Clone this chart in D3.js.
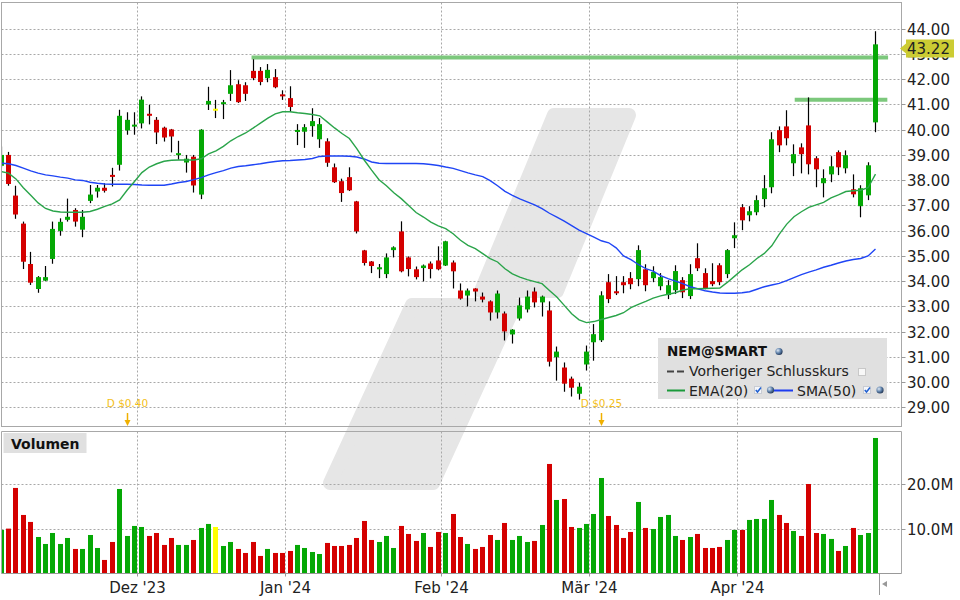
<!DOCTYPE html>
<html><head><meta charset="utf-8">
<script src="https://cdn.jsdelivr.net/npm/d3@7"></script>
<style>
body{margin:0;background:#fff;}
svg{display:block;font-family:"DejaVu Sans",Verdana,sans-serif;}
</style>
</head><body>
<svg id="c" width="960" height="600"></svg>
<script>
// ---------------- DATA ----------------
const openP = [38.57,39.00,37.39,36.28,34.68,33.69,34.02,34.88,35.99,36.43,36.82,36.04,37.18,37.55,37.70,38.21,38.61,39.97,40.13,40.25,
40.63,40.39,40.08,40.01,39.00,38.70,38.93,37.43,41.00,40.83,41.02,41.42,41.80,41.76,42.33,42.33,42.04,42.08,41.40,41.25,
39.91,39.92,40.14,39.62,39.54,38.51,37.96,38.12,37.16,35.22,34.78,34.47,34.28,35.23,35.97,34.94,34.47,34.52,34.70,34.82,
34.62,34.74,33.63,33.43,33.71,33.39,33.20,32.76,32.72,31.89,32.52,32.88,33.59,33.16,32.84,30.99,30.58,30.14,29.54,30.70,
31.58,31.66,33.96,33.60,33.96,34.12,34.08,34.47,34.12,33.80,33.45,33.64,34.04,33.41,34.91,34.32,34.00,34.63,34.28,35.70,
36.93,36.61,36.73,37.25,37.72,39.98,40.13,38.67,39.30,40.17,38.87,37.88,38.23,39.11,38.47,37.64,36.97,37.40,40.29];
const highP = [39.33,39.12,37.78,36.36,35.16,34.20,34.60,36.36,36.49,37.27,36.89,36.82,37.81,37.81,37.88,38.49,40.79,40.69,40.69,41.32,
40.99,40.50,40.12,40.03,39.56,39.00,39.00,40.02,41.70,41.18,41.18,42.36,41.96,41.88,42.79,42.48,42.60,42.40,41.56,41.72,
40.22,40.22,40.85,40.46,39.66,38.66,38.06,38.51,37.18,35.24,34.80,34.68,35.10,35.38,36.37,34.98,34.58,34.66,34.78,35.38,
35.60,34.82,33.91,33.71,33.72,33.55,33.24,33.63,32.80,32.10,33.35,33.63,33.75,33.43,33.20,31.41,30.78,30.22,29.98,31.45,
32.30,33.60,34.28,34.20,34.20,34.36,35.42,34.67,34.59,34.32,34.04,34.63,34.16,34.67,35.50,34.51,34.71,34.71,35.27,36.33,
37.05,36.97,37.40,38.20,39.90,40.13,40.77,39.42,39.46,41.28,38.95,38.43,38.95,39.18,39.18,38.23,37.80,38.71,43.90];
const lowP = [38.50,37.78,36.47,34.48,33.85,33.54,34.00,34.69,35.80,36.36,36.16,35.74,37.09,37.31,37.51,37.75,38.38,39.80,39.80,40.05,
40.21,39.43,39.53,39.10,38.81,38.30,37.51,37.25,40.78,40.46,40.42,41.14,41.06,41.14,41.96,41.76,41.88,41.64,41.18,40.70,
39.39,39.28,39.72,39.28,38.53,37.89,37.14,37.57,35.89,34.62,34.32,34.12,34.12,34.94,34.35,34.19,34.07,33.99,34.11,34.43,
34.60,33.71,33.27,33.00,33.20,33.16,32.44,32.52,31.65,31.53,32.44,32.76,32.96,32.60,30.62,30.06,29.62,29.43,29.31,30.46,
30.85,31.59,33.13,33.45,33.52,33.68,33.80,33.60,33.96,33.64,33.29,33.49,33.33,33.29,34.40,33.68,33.80,33.84,34.12,35.31,
36.02,36.37,36.61,36.93,37.48,39.11,39.38,38.16,38.27,38.23,37.72,37.32,37.92,38.20,38.27,37.32,36.53,37.21,39.90];
const closeP = [39.00,37.85,36.64,34.77,33.94,34.16,34.16,36.07,36.35,36.55,36.36,36.55,37.43,37.70,37.58,38.13,40.55,40.39,40.20,41.19,
40.55,39.89,39.69,39.73,39.07,38.85,37.79,40.00,41.14,40.83,41.09,41.76,41.09,41.42,42.04,41.89,42.37,41.68,41.32,40.90,
39.99,40.10,40.34,40.22,38.69,37.92,37.49,37.60,35.97,34.72,34.60,34.55,34.94,35.34,34.39,34.48,34.16,34.62,34.48,34.47,
35.58,34.39,33.31,33.63,33.59,33.27,32.76,33.51,32.01,32.08,33.04,33.39,33.16,33.39,30.81,31.21,29.94,29.78,29.82,31.21,
31.90,33.44,33.29,33.52,33.84,33.88,35.23,33.84,34.36,34.16,33.84,34.40,33.56,34.28,34.51,33.72,33.88,33.96,35.23,35.82,
36.41,36.77,37.21,37.68,39.62,39.38,39.66,39.03,39.03,38.63,38.43,38.08,38.55,38.51,38.99,37.44,37.68,38.59,43.38];
// volume in millions
const volumeM = [9.74,10.04,19.18,13.11,11.54,8.16,6.59,9.06,6.59,7.94,5.47,5.47,8.61,5.69,3.00,7.04,18.95,8.39,10.64,10.41,
8.39,9.06,6.37,7.94,6.37,6.37,7.49,10.19,11.09,10.41,6.14,7.04,5.47,4.57,7.04,3.90,5.47,4.57,4.57,5.02,
6.37,5.69,4.79,4.34,6.82,6.14,6.14,6.37,7.94,11.76,7.49,7.04,8.39,5.69,10.64,8.84,7.27,9.06,5.92,9.29,
9.06,13.33,8.16,6.59,5.47,5.92,8.61,7.49,11.31,7.49,8.39,7.04,7.27,10.86,24.57,16.48,16.70,10.41,10.19,11.09,
13.33,21.42,12.88,10.86,7.94,9.29,16.03,10.19,9.96,12.66,13.11,8.39,7.49,8.16,8.84,5.69,5.69,5.92,7.49,9.74,
9.74,11.99,12.21,12.21,16.48,13.11,11.31,9.51,8.39,20.07,9.06,8.84,7.72,5.02,6.14,10.19,8.61,9.06,30.41];
const ema20 = [38.34,38.28,38.05,37.70,37.40,37.10,36.88,36.78,36.74,36.73,36.73,36.73,36.76,36.85,36.96,37.06,37.22,37.60,37.95,38.30,
38.52,38.65,38.75,38.79,38.80,38.80,38.80,38.85,39.04,39.16,39.34,39.56,39.73,39.87,40.06,40.26,40.46,40.63,40.71,40.71,
40.67,40.64,40.60,40.55,40.31,40.07,39.85,39.65,39.25,38.80,38.40,38.02,37.78,37.50,37.27,37.00,36.72,36.54,36.34,36.19,
36.08,35.88,35.62,35.42,35.29,35.09,34.89,34.76,34.49,34.29,34.16,34.06,33.98,33.90,33.63,33.37,33.04,32.71,32.47,32.36,
32.40,32.48,32.56,32.64,32.75,32.95,33.08,33.20,33.33,33.42,33.48,33.54,33.65,33.70,33.70,33.71,33.72,33.73,33.95,34.20,
34.45,34.65,34.90,35.10,35.40,35.85,36.25,36.55,36.75,36.92,37.02,37.12,37.30,37.42,37.55,37.58,37.60,37.70,38.24];
const sma50 = [38.67,38.65,38.58,38.48,38.37,38.28,38.21,38.17,38.12,38.08,38.01,37.99,37.92,37.88,37.85,37.84,37.84,37.84,37.83,37.81,
37.80,37.80,37.80,37.85,37.91,37.95,38.02,38.10,38.21,38.30,38.38,38.48,38.54,38.57,38.61,38.65,38.70,38.74,38.77,38.78,
38.80,38.82,38.86,38.94,38.96,38.96,38.96,38.95,38.92,38.84,38.72,38.67,38.66,38.66,38.66,38.66,38.66,38.65,38.62,38.58,
38.52,38.47,38.38,38.29,38.21,38.14,37.98,37.78,37.56,37.40,37.26,37.14,37.02,36.87,36.69,36.54,36.38,36.20,36.02,35.88,
35.74,35.60,35.52,35.32,35.00,34.85,34.66,34.50,34.40,34.22,34.10,34.00,33.90,33.78,33.70,33.62,33.57,33.53,33.52,33.52,
33.54,33.58,33.68,33.78,33.85,33.91,34.02,34.14,34.26,34.36,34.45,34.55,34.63,34.72,34.80,34.86,34.90,35.00,35.27];
const priceTicks = [29,30,31,32,33,34,35,36,37,38,39,40,41,42,43,44];
const volumeTicks = [10,20];
const monthLabels = ["Dez '23","Jan '24","Feb '24","Mär '24","Apr '24"];
const monthStartIdx = [19,39,60,80,100];
const lastPrice = 43.22;
const levelPrices = [42.86, 41.19];
const levelFromIdx = [33.8, 107.1];
const levelToIdx = [119.7, 119.6];
const dividendIdx = [17, 81];
const dividendText = ["D $0.40","D $0.25"];

// ---------------- CHART ----------------
const svg = d3.select("#c");
const L = 1.5, R = 901.5, T = 2.5, B = 426.5, VT = 431.5, VB = 573.5;
const n = closeP.length;
const x = d3.scaleLinear().domain([0, n-1]).range([1.1, 1.1 + 7.41*(n-1)]);
const y = d3.scaleLinear().domain([29, 44]).range([407.4, 28.7]);
const yv = d3.scaleLinear().domain([0, 20]).range([573.3, 484.3]);
const GREEN = "#05a805", RED = "#d40000", YEL = "#ffff00";
const colorOf = i => closeP[i] > openP[i] ? GREEN : (closeP[i] < openP[i] ? RED : YEL);

const defs = svg.append("defs");
defs.append("clipPath").attr("id","cm").append("rect").attr("x",2).attr("y",3).attr("width",899).attr("height",423);
defs.append("clipPath").attr("id","cv").append("rect").attr("x",2).attr("y",432).attr("width",899).attr("height",141.5);
const f = defs.append("filter").attr("id","sh").attr("x","-5%").attr("y","-200%").attr("width","110%").attr("height","500%");
f.append("feGaussianBlur").attr("stdDeviation",1.8);
const rg = defs.append("radialGradient").attr("id","globe").attr("cx","35%").attr("cy","35%").attr("r","70%");
rg.append("stop").attr("offset","0%").attr("stop-color","#dfe9f5");
rg.append("stop").attr("offset","55%").attr("stop-color","#5c7fa8");
rg.append("stop").attr("offset","100%").attr("stop-color","#1e3150");

// watermark
const wm = svg.append("g").attr("fill","#e6e6e6").attr("stroke","#e6e6e6").attr("stroke-width",14).attr("stroke-linejoin","round");
wm.append("path").attr("d","M554,115 L629,115 L557,291 L481,291 Z");
wm.append("path").attr("d","M412,305 L515,305 L433,483 L330,483 Z");

// horizontal grid
const grid = svg.append("g").attr("stroke","#a8a8a8").attr("stroke-dasharray","2,2").attr("stroke-width",1);
priceTicks.forEach(p => {
  const yy = Math.round(y(p)) + 0.5;
  grid.append("line").attr("x1",L).attr("x2",R).attr("y1",yy).attr("y2",yy);
});
volumeTicks.forEach(v => {
  const yy = Math.round(yv(v)) + 0.5;
  grid.append("line").attr("x1",L).attr("x2",R).attr("y1",yy).attr("y2",yy);
});
monthStartIdx.forEach(m => {
  const xx = Math.round(x(m - 0.5)) - 0.5;
  grid.append("line").attr("x1",xx).attr("x2",xx).attr("y1",T).attr("y2",B);
  grid.append("line").attr("x1",xx).attr("x2",xx).attr("y1",VT).attr("y2",VB);
});

// resistance lines
const lv = svg.append("g").attr("clip-path","url(#cm)");
levelPrices.forEach((p,k) => {
  const yy = y(p);
  lv.append("line").attr("x1",x(levelFromIdx[k])).attr("x2",x(levelToIdx[k])).attr("y1",yy+3).attr("y2",yy+3)
    .attr("stroke","#9a9a9a").attr("stroke-width",4).attr("opacity",0.75).attr("filter","url(#sh)");
  lv.append("line").attr("x1",x(levelFromIdx[k])).attr("x2",x(levelToIdx[k])).attr("y1",yy).attr("y2",yy)
    .attr("stroke","#7cc87c").attr("stroke-width",4);
});

// candles
const cg = svg.append("g").attr("clip-path","url(#cm)");
d3.range(n).forEach(i => {
  const cx = Math.floor(x(i));
  cg.append("line").attr("x1",cx+0.5).attr("x2",cx+0.5).attr("y1",y(highP[i])).attr("y2",y(lowP[i]))
    .attr("stroke","#000").attr("stroke-width",1.2);
  const top = y(Math.max(openP[i],closeP[i])), bot = y(Math.min(openP[i],closeP[i]));
  cg.append("rect").attr("x",cx-2).attr("width",5).attr("y",top).attr("height",Math.max(2,bot-top)).attr("fill",colorOf(i));
});

// moving averages
const lineGen = d3.line().x((d,i)=>x(i)).y(d=>y(d));
cg.append("path").datum(sma50).attr("d",lineGen).attr("fill","none").attr("stroke","#1f45f5").attr("stroke-width",1.4);
cg.append("path").datum(ema20).attr("d",lineGen).attr("fill","none").attr("stroke","#2aa44a").attr("stroke-width",1.4);

// volume bars
const vg = svg.append("g").attr("clip-path","url(#cv)");
d3.range(n).forEach(i => {
  const cx = Math.floor(x(i));
  vg.append("rect").attr("x",cx-2).attr("width",5).attr("y",yv(volumeM[i])).attr("height",yv(0)-yv(volumeM[i])).attr("fill",colorOf(i));
});

// panel borders
const bd = svg.append("g").attr("fill","none").attr("stroke","#a8a8a8").attr("stroke-width",1);
bd.append("rect").attr("x",L).attr("y",T).attr("width",R-L).attr("height",B-T);
bd.append("path").attr("d",`M${L},${VB} L${L},${VT} L${R},${VT} L${R},${VB}`);
bd.append("line").attr("x1",L).attr("x2",R).attr("y1",VB).attr("y2",VB).attr("stroke","#999");

// right axis (price)
const ax = svg.append("g");
priceTicks.forEach(p => {
  const yy = Math.round(y(p)) + 0.5;
  ax.append("line").attr("x1",R).attr("x2",R+4).attr("y1",yy).attr("y2",yy).attr("stroke","#999");
  ax.append("text").attr("x",907).attr("y",yy+5.5).attr("font-size",15).attr("fill","#222").text(d3.format(".2f")(p));
});
volumeTicks.forEach(v => {
  const yy = Math.round(yv(v)) + 0.5;
  ax.append("line").attr("x1",R).attr("x2",R+4).attr("y1",yy).attr("y2",yy).attr("stroke","#999");
  ax.append("text").attr("x",907).attr("y",yy+5.5).attr("font-size",15).attr("fill","#222").text(d3.format(".1f")(v)+"M");
});
// bottom axis
monthStartIdx.forEach((m,k) => {
  const xx = Math.round(x(m - 0.5)) - 0.5;
  ax.append("line").attr("x1",xx).attr("x2",xx).attr("y1",VB).attr("y2",VB+3).attr("stroke","#999");
  ax.append("text").attr("x",xx).attr("y",593).attr("text-anchor","middle").attr("font-size",15).attr("fill","#222").text(monthLabels[k]);
});
// scroll marker
ax.append("line").attr("x1",879.5).attr("x2",879.5).attr("y1",VB).attr("y2",595).attr("stroke","#999");
ax.append("path").attr("d","M882,584 L887,581 L887,587 Z").attr("fill","#999");

// last price label
const ly = y(lastPrice);
ax.append("path").attr("d",`M900,${ly} L906,${ly-5} L906,${ly-9} L954,${ly-9} L954,${ly+9} L906,${ly+9} L906,${ly+5} Z`).attr("fill","#cccc33");
ax.append("text").attr("x",907).attr("y",ly+5.5).attr("font-size",15).attr("fill","#222").text(d3.format(".2f")(lastPrice));

// dividends
dividendIdx.forEach((d,k) => {
  const xx = Math.floor(x(d)) + 0.5;
  ax.append("text").attr("x",xx).attr("y",407).attr("text-anchor","middle").attr("font-size",10.5).attr("fill","#f4c020").text(dividendText[k]);
  ax.append("line").attr("x1",xx).attr("x2",xx).attr("y1",413).attr("y2",421).attr("stroke","#f0b000").attr("stroke-width",1.5);
  ax.append("path").attr("d",`M${xx-3},${420} L${xx+3},${420} L${xx},${426} Z`).attr("fill","#f0b000");
});

// volume label
ax.append("rect").attr("x",3.5).attr("y",433).attr("width",83).attr("height",20).attr("fill","#e0e0e0");
ax.append("text").attr("x",11).attr("y",448.5).attr("font-size",14).attr("font-weight","bold").attr("fill","#111").text("Volumen");

// legend
const lg = svg.append("g");
lg.append("rect").attr("x",658).attr("y",338).attr("width",229).attr("height",61).attr("fill","#e0e0e0");
lg.append("text").attr("x",667).attr("y",356).attr("font-size",13.5).attr("font-weight","bold").attr("fill","#111").text("NEM@SMART");
const globe = (cx,cy) => lg.append("circle").attr("cx",cx).attr("cy",cy).attr("r",3.6).attr("fill","url(#globe)");
const check = (x0,y0) => {
  lg.append("rect").attr("x",x0+0.5).attr("y",y0+0.5).attr("width",7).attr("height",7).attr("fill","#f4f6fa").attr("stroke","#c8ccd4");
  lg.append("path").attr("d",`M${x0+1.8},${y0+4} L${x0+3.5},${y0+6} L${x0+7},${y0+1.5}`).attr("fill","none").attr("stroke","#2060d0").attr("stroke-width",1.5);
};
globe(779,351.5);
lg.append("line").attr("x1",667).attr("x2",674).attr("y1",371.5).attr("y2",371.5).attr("stroke","#444").attr("stroke-width",2);
lg.append("line").attr("x1",677).attr("x2",684).attr("y1",371.5).attr("y2",371.5).attr("stroke","#444").attr("stroke-width",2);
lg.append("text").attr("x",689).attr("y",376).attr("font-size",14).attr("fill","#222").text("Vorheriger Schlusskurs");
lg.append("rect").attr("x",858.5).attr("y",368.5).attr("width",7).attr("height",7).attr("fill","#f8f8f8").attr("stroke","#c8c8c8");
lg.append("line").attr("x1",667).attr("x2",685).attr("y1",390.5).attr("y2",390.5).attr("stroke","#1a9a3a").attr("stroke-width",2);
lg.append("text").attr("x",689).attr("y",396).attr("font-size",14).attr("fill","#222").text("EMA(20)");
check(754,386);
globe(770.5,390);
lg.append("line").attr("x1",774).attr("x2",793).attr("y1",390.5).attr("y2",390.5).attr("stroke","#1d3cf0").attr("stroke-width",2);
lg.append("text").attr("x",797).attr("y",396).attr("font-size",14).attr("fill","#222").text("SMA(50)");
check(863,386);
globe(880,390);
</script>
</body></html>
